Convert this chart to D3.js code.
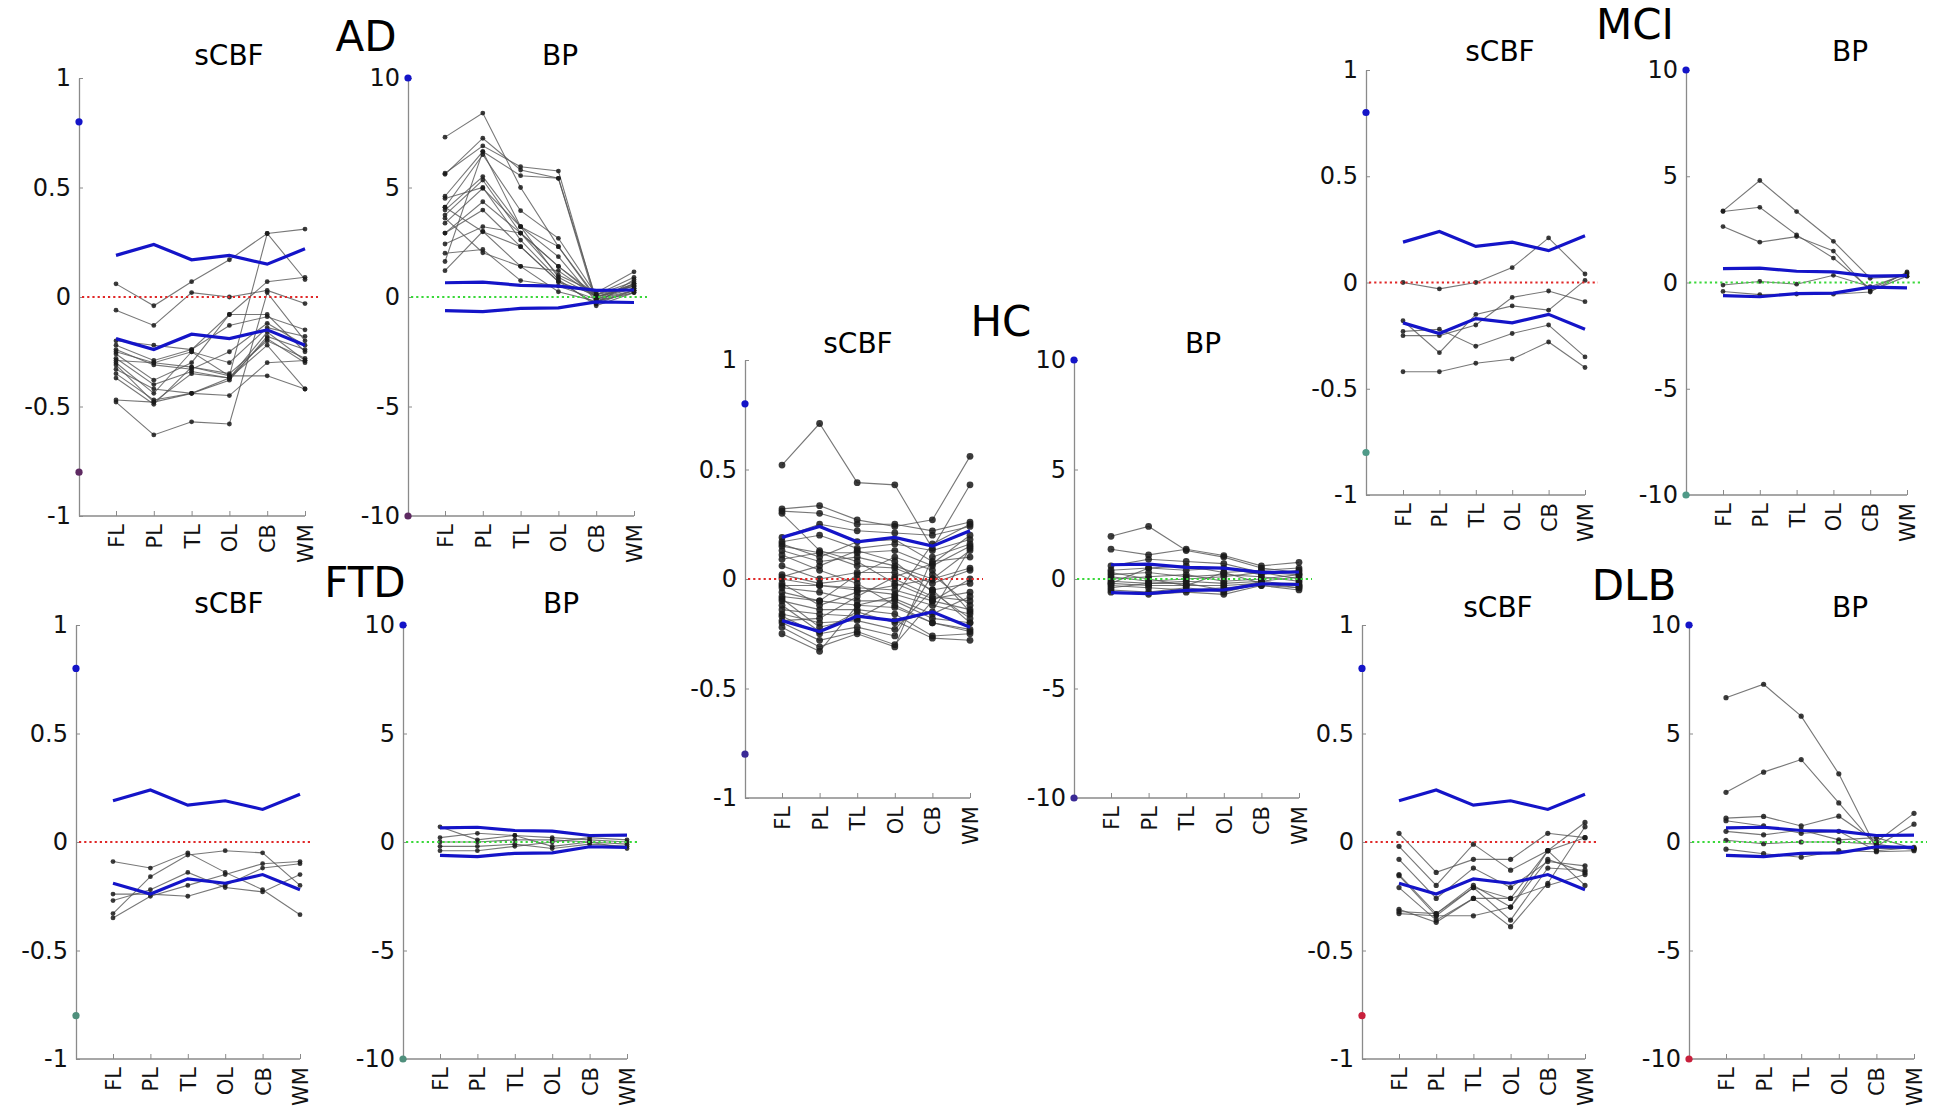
<!DOCTYPE html>
<html>
<head>
<meta charset="utf-8">
<script src="https://cdn.jsdelivr.net/npm/d3@7"></script>
<style>
  body { margin: 0; background: #fff; }
  svg { display: block; font-family: "DejaVu Sans", sans-serif; }
</style>
</head>
<body>
<svg id="chart" width="1950" height="1115"></svg>
<script>
// regions and tick values
const regions = ["FL", "PL", "TL", "OL", "CB", "WM"];
const cbfTicks = [1, 0.5, 0, -0.5, -1];
const bpTicks = [10, 5, 0, -5, -10];

// HC limits (blue lines), same in every group
const cbfUpper = [0.19, 0.24, 0.17, 0.19, 0.15, 0.22];
const cbfLower = [-0.19, -0.24, -0.17, -0.19, -0.15, -0.22];
const bpUpper = [0.65, 0.68, 0.53, 0.50, 0.30, 0.32];
const bpLower = [-0.62, -0.67, -0.52, -0.50, -0.22, -0.25];

// subjects, one row per subject: FL PL TL OL CB WM
const adCbf = [
    [0.06, -0.04, 0.07, 0.17, 0.29, 0.31],
    [-0.06, -0.13, 0.02, 0.00, 0.03, -0.03],
    [-0.20, -0.22, -0.24, -0.08, 0.07, 0.09],
    [-0.22, -0.29, -0.24, -0.13, -0.09, -0.15],
    [-0.24, -0.31, -0.33, -0.25, -0.12, -0.22],
    [-0.26, -0.38, -0.30, -0.08, -0.08, -0.25],
    [-0.28, -0.40, -0.34, -0.37, -0.16, -0.29],
    [-0.29, -0.30, -0.32, -0.35, -0.20, -0.28],
    [-0.30, -0.44, -0.25, -0.30, -0.14, -0.18],
    [-0.31, -0.48, -0.35, -0.37, -0.19, -0.30],
    [-0.33, -0.42, -0.44, -0.38, -0.18, -0.24],
    [-0.35, -0.47, -0.44, -0.45, -0.30, -0.29],
    [-0.37, -0.49, -0.32, -0.36, 0.29, 0.08],
    [-0.47, -0.48, -0.44, -0.37, -0.22, -0.42],
    [-0.48, -0.63, -0.57, -0.58, 0.02, -0.20],
    [-0.25, -0.30, -0.25, -0.36, -0.36, -0.42]
];
const adBp = [
    [7.3, 8.4, 5.0, 2.3, 0.0, 0.5],
    [5.65, 6.9, 5.95, 5.75, -0.2, 0.6],
    [5.6, 7.25, 5.8, 5.42, -0.3, 0.8],
    [4.6, 6.64, 5.54, 5.42, -0.1, 0.4],
    [4.1, 6.5, 3.94, 2.68, 0.1, 0.9],
    [3.97, 5.5, 3.21, 1.84, -0.2, 0.3],
    [3.74, 5.34, 2.92, 1.4, 0.0, 0.5],
    [3.37, 4.96, 3.21, 2.3, -0.1, 0.6],
    [2.92, 4.35, 2.92, 1.0, 0.2, 1.15],
    [2.92, 3.97, 2.3, 0.7, -0.3, 0.3],
    [2.42, 3.21, 2.92, 1.4, 0.1, 0.7],
    [1.62, 6.64, 3.21, 0.9, 0.0, 0.4],
    [1.2, 3.0, 1.4, 0.24, -0.2, 0.2],
    [4.1, 2.98, 2.3, 0.7, 0.1, 0.5],
    [2.0, 2.17, 0.75, 0.5, -0.1, 0.3],
    [3.6, 2.02, 1.4, 1.2, 0.0, 0.6],
    [4.5, 5.0, 2.6, 0.8, -0.4, 0.2]
];
const ftdCbf = [
    [-0.09, -0.12, -0.05, -0.14, -0.22, -0.335],
    [-0.24, -0.24, -0.25, -0.20, -0.12, -0.10],
    [-0.27, -0.22, -0.14, -0.21, -0.23, -0.15],
    [-0.33, -0.16, -0.06, -0.04, -0.05, -0.20],
    [-0.35, -0.25, -0.20, -0.15, -0.10, -0.09]
];
const ftdBp = [
    [0.2, 0.4, 0.3, 0.2, 0.1, 0.0],
    [0.0, 0.0, 0.1, 0.1, 0.0, -0.1],
    [-0.4, -0.4, -0.2, 0.0, 0.2, 0.1],
    [-0.2, -0.2, -0.1, -0.3, -0.1, -0.2],
    [0.7, 0.1, 0.3, -0.2, 0.0, -0.3]
];
const hcCbf = [
    [0.52, 0.71, 0.44, 0.43, 0.14, 0.43],
    [0.32, 0.335, 0.27, 0.24, 0.27, 0.56],
    [0.31, 0.30, 0.25, 0.25, 0.22, 0.26],
    [0.19, 0.25, 0.22, 0.21, 0.20, 0.24],
    [0.17, 0.20, 0.14, 0.16, 0.13, 0.18],
    [0.15, 0.12, 0.12, 0.13, 0.06, 0.15],
    [0.13, 0.08, 0.10, 0.06, 0.00, 0.13],
    [0.09, 0.12, 0.06, 0.05, -0.02, 0.04],
    [0.06, 0.00, 0.03, 0.03, -0.05, -0.02],
    [0.02, -0.02, 0.00, 0.00, -0.08, -0.10],
    [0.00, -0.03, -0.04, -0.05, -0.10, -0.14],
    [-0.03, -0.03, -0.05, -0.07, -0.12, -0.16],
    [-0.04, -0.06, -0.10, -0.10, -0.18, -0.20],
    [-0.08, -0.10, -0.12, -0.13, -0.20, -0.23],
    [-0.10, -0.14, -0.14, -0.16, -0.26, -0.25],
    [-0.14, -0.16, -0.17, -0.19, -0.27, -0.28],
    [-0.16, -0.20, -0.19, -0.23, -0.05, -0.20],
    [-0.17, -0.25, -0.22, -0.26, 0.02, -0.12],
    [-0.20, -0.28, -0.24, -0.30, -0.10, 0.00],
    [-0.22, -0.31, -0.25, -0.31, 0.10, 0.16],
    [-0.25, -0.33, -0.12, -0.08, 0.16, 0.25],
    [-0.12, -0.24, -0.15, -0.20, -0.15, 0.14],
    [0.01, 0.06, 0.13, 0.08, -0.06, -0.18],
    [-0.06, -0.10, 0.02, 0.10, 0.04, -0.15],
    [0.11, 0.04, -0.02, -0.12, -0.20, -0.24],
    [-0.19, -0.18, -0.08, 0.01, 0.07, 0.20],
    [0.16, 0.10, 0.17, 0.18, 0.08, 0.10],
    [-0.02, -0.12, -0.06, -0.03, 0.00, 0.05],
    [0.30, 0.13, 0.08, -0.02, -0.09, -0.06],
    [-0.09, -0.22, -0.18, -0.09, -0.16, -0.08]
];
const hcBp = [
    [1.95, 2.4, 1.3, 1.0, 0.5, 0.3],
    [1.36, 1.1, 1.36, 1.07, 0.6, 0.76],
    [0.6, 0.9, 0.8, 0.7, 0.3, 0.2],
    [0.4, 0.5, 0.4, 0.5, 0.2, 0.4],
    [0.2, 0.3, 0.1, 0.2, 0.1, -0.1],
    [0.0, 0.1, 0.2, -0.1, 0.0, 0.2],
    [-0.1, -0.2, -0.1, -0.2, -0.1, -0.3],
    [-0.2, -0.3, -0.3, -0.3, -0.2, -0.2],
    [-0.3, -0.4, -0.5, -0.4, -0.3, -0.4],
    [-0.5, -0.6, -0.4, -0.6, -0.2, -0.3],
    [-0.6, -0.7, -0.6, -0.7, -0.3, -0.5],
    [0.1, -0.1, 0.0, 0.1, 0.3, 0.0],
    [-0.4, -0.2, -0.2, -0.5, -0.1, 0.1],
    [0.3, 0.0, -0.3, 0.3, 0.4, 0.5],
    [-0.2, 0.5, 0.6, 0.3, -0.2, -0.4]
];
const mciCbf = [
    [0.00, -0.03, 0.00, 0.07, 0.21, 0.04],
    [-0.18, -0.33, -0.15, -0.11, -0.13, 0.01],
    [-0.23, -0.22, -0.30, -0.24, -0.20, -0.35],
    [-0.25, -0.25, -0.20, -0.07, -0.04, -0.09],
    [-0.42, -0.42, -0.38, -0.36, -0.28, -0.40]
];
const mciBp = [
    [3.37, 4.8, 3.34, 1.94, 0.2, 0.3],
    [3.34, 3.54, 2.24, 1.15, -0.3, 0.45],
    [2.63, 1.9, 2.16, 1.48, -0.4, 0.3],
    [-0.12, 0.05, -0.08, 0.34, -0.2, 0.4],
    [-0.42, -0.57, -0.54, -0.55, -0.45, 0.5]
];
const dlbCbf = [
    [0.04, -0.14, -0.08, -0.08, 0.04, 0.02],
    [-0.02, -0.20, -0.01, -0.13, -0.04, -0.20],
    [-0.08, -0.26, -0.12, -0.21, -0.09, -0.11],
    [-0.15, -0.33, -0.20, -0.30, -0.04, 0.09],
    [-0.155, -0.34, -0.21, -0.36, -0.12, -0.13],
    [-0.21, -0.36, -0.26, -0.39, -0.19, 0.07],
    [-0.31, -0.37, -0.26, -0.26, -0.20, -0.15],
    [-0.33, -0.34, -0.34, -0.30, -0.08, -0.14],
    [-0.32, -0.33, -0.21, -0.26, -0.04, 0.02]
];
const dlbBp = [
    [6.65, 7.27, 5.8, 3.14, -0.3, -0.3],
    [2.29, 3.22, 3.8, 1.8, -0.2, 0.82],
    [1.1, 1.18, 0.74, 1.19, 0.0, 1.32],
    [0.98, 0.74, 0.4, 0.49, -0.4, -0.25],
    [0.49, 0.33, 0.55, 0.1, 0.2, -0.3],
    [0.08, -0.08, 0.0, 0.0, -0.1, -0.35],
    [-0.33, -0.54, -0.7, -0.4, -0.45, -0.4]
];

// page layout of the five groups
const groups = [
    {name: "AD", cbf: adCbf, bp: adBp, x0: 79, bpX: 408, top: 78, bottom: 516, cw: 226, bw: 226,
     title: [366, 51], cbfTitle: [229, 65], bpTitle: [560, 65], low: "#5e2a62", r: 2.4},
    {name: "FTD", cbf: ftdCbf, bp: ftdBp, x0: 76, bpX: 403, top: 625, bottom: 1059, cw: 224, bw: 224,
     title: [365, 597], cbfTitle: [229, 613], bpTitle: [561, 613], low: "#4f8f7c", r: 2.4},
    {name: "HC", cbf: hcCbf, bp: hcBp, x0: 745, bpX: 1074, top: 360, bottom: 798, cw: 225, bw: 225,
     title: [1001, 336], cbfTitle: [858, 353], bpTitle: [1203, 353], low: "#3a2a96", r: 3.4},
    {name: "MCI", cbf: mciCbf, bp: mciBp, x0: 1366, bpX: 1686, top: 70, bottom: 495, cw: 219, bw: 221,
     title: [1635, 39], cbfTitle: [1500, 61], bpTitle: [1850, 61], low: "#4f9a88", r: 2.4},
    {name: "DLB", cbf: dlbCbf, bp: dlbBp, x0: 1362, bpX: 1689, top: 625, bottom: 1059, cw: 223, bw: 225,
     title: [1634, 600], cbfTitle: [1498, 617], bpTitle: [1850, 617], low: "#c8203c", r: 2.6}
];

const svg = d3.select("#chart");
const blue = "#1414c8";

function drawPanel(parent, p) {
    var g = parent.append("g");
    var x = d3.scalePoint().domain(regions).range([p.ax + 37, p.ax + p.w]);
    var y = d3.scaleLinear().domain([-p.lim, p.lim]).range([p.bottom, p.top]);

    // y axis
    var ya = g.append("g")
        .attr("transform", `translate(${p.ax},0)`)
        .call(d3.axisLeft(y).tickValues(p.ticks).tickSize(-4).tickSizeOuter(0).tickPadding(8).tickFormat(d => String(d)));
    ya.select(".domain").attr("stroke", "#8a8a8a").attr("stroke-width", 1.3);
    ya.selectAll(".tick line").attr("stroke", "#8a8a8a");
    ya.selectAll(".tick text").attr("font-size", 24).attr("fill", "#111").attr("font-family", "DejaVu Sans");

    // x axis
    g.append("line")
        .attr("x1", p.ax).attr("x2", p.ax + p.w)
        .attr("y1", p.bottom).attr("y2", p.bottom)
        .attr("stroke", "#8a8a8a").attr("stroke-width", 1.3);
    var xa = g.append("g")
        .attr("transform", `translate(0,${p.bottom})`)
        .call(d3.axisBottom(x).tickSize(-5).tickSizeOuter(0));
    xa.select(".domain").remove();
    xa.selectAll(".tick line").attr("stroke", "#8a8a8a");
    xa.selectAll(".tick text")
        .attr("transform", "rotate(-90)")
        .attr("x", -8).attr("y", 0).attr("dy", "0.36em")
        .attr("text-anchor", "end")
        .attr("font-size", 21).attr("fill", "#111").attr("font-family", "DejaVu Sans");

    var line = d3.line().x((d, i) => x(regions[i])).y(d => y(d));

    // subjects
    var subj = g.append("g");
    subj.selectAll("path")
        .data(p.data)
        .join("path")
        .attr("d", line)
        .attr("fill", "none")
        .attr("stroke", "#555")
        .attr("stroke-opacity", 0.8)
        .attr("stroke-width", 1.1);
    subj.selectAll("g")
        .data(p.data)
        .join("g")
        .selectAll("circle")
        .data(d => d)
        .join("circle")
        .attr("cx", (d, i) => x(regions[i]))
        .attr("cy", d => y(d))
        .attr("r", p.r)
        .attr("fill", "#1a1a1a")
        .attr("fill-opacity", 0.85);

    // zero line
    g.append("line")
        .attr("x1", p.ax + 3).attr("x2", p.ax + p.w + 13)
        .attr("y1", y(0)).attr("y2", y(0))
        .attr("stroke", p.zero).attr("stroke-width", 2.2)
        .attr("stroke-dasharray", "2.2,3");

    // HC limits
    g.append("g").selectAll("path")
        .data([p.upper, p.lower])
        .join("path")
        .attr("d", line)
        .attr("fill", "none")
        .attr("stroke", blue)
        .attr("stroke-width", 3.2);

    // colour scale end markers
    g.append("circle").attr("cx", p.ax).attr("cy", y(p.mark)).attr("r", 3.6).attr("fill", blue);
    g.append("circle").attr("cx", p.ax).attr("cy", y(-p.mark)).attr("r", 3.6).attr("fill", p.low);
}

groups.forEach(gr => {
    var g = svg.append("g");
    drawPanel(g, {ax: gr.x0, w: gr.cw, top: gr.top, bottom: gr.bottom, lim: 1, ticks: cbfTicks,
        data: gr.cbf, upper: cbfUpper, lower: cbfLower, zero: "#e02828", mark: 0.8, low: gr.low, r: gr.r});
    drawPanel(g, {ax: gr.bpX, w: gr.bw, top: gr.top, bottom: gr.bottom, lim: 10, ticks: bpTicks,
        data: gr.bp, upper: bpUpper, lower: bpLower, zero: "#3ad83a", mark: 10, low: gr.low, r: gr.r});

    g.append("text")
        .attr("x", gr.title[0]).attr("y", gr.title[1])
        .attr("text-anchor", "middle").attr("font-size", 42)
        .text(gr.name);
    g.append("text")
        .attr("x", gr.cbfTitle[0]).attr("y", gr.cbfTitle[1])
        .attr("text-anchor", "middle").attr("font-size", 28)
        .text("sCBF");
    g.append("text")
        .attr("x", gr.bpTitle[0]).attr("y", gr.bpTitle[1])
        .attr("text-anchor", "middle").attr("font-size", 28)
        .text("BP");
});
</script>
</body>
</html>
